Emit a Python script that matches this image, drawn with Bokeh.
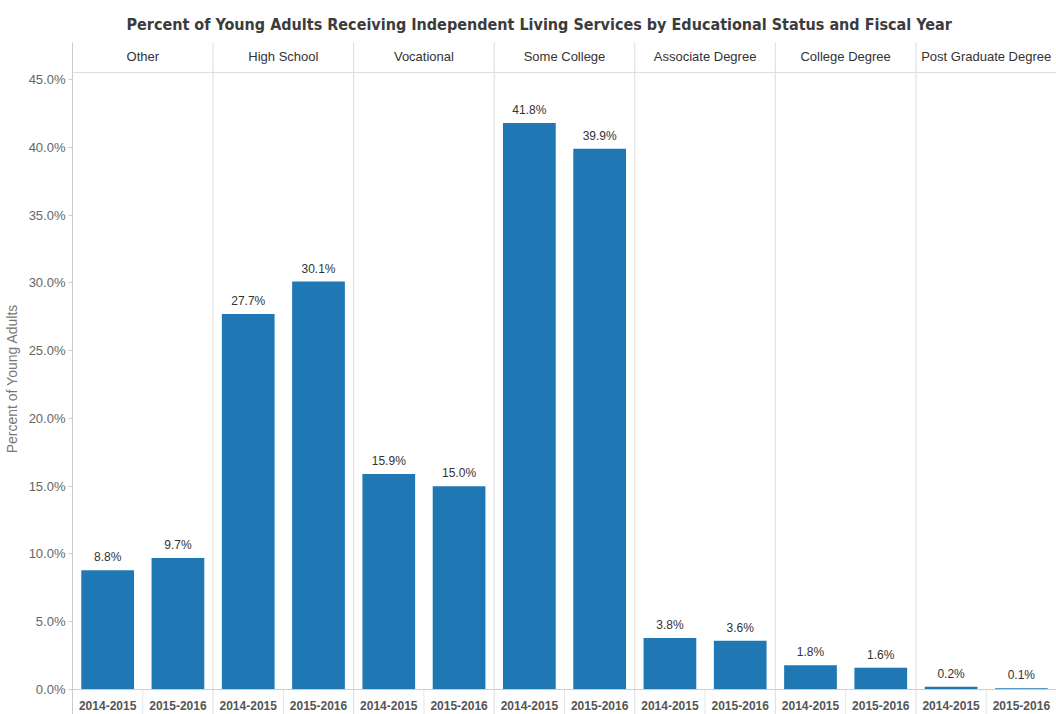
from bokeh.plotting import figure
from bokeh.models import FactorRange, Range1d, Span, FixedTicker, PrintfTickFormatter, ColumnDataSource
from bokeh.core.properties import value
from bokeh.embed import file_html
from bokeh.resources import INLINE

# ---- data ----
categories = ["Other", "High School", "Vocational", "Some College",
              "Associate Degree", "College Degree", "Post Graduate Degree"]
years = ["2014-2015", "2015-2016"]
fy_2014_2015 = [8.8, 27.7, 15.9, 41.8, 3.8, 1.8, 0.2]
fy_2015_2016 = [9.7, 30.1, 15.0, 39.9, 3.6, 1.6, 0.1]
y_ticks = [0, 5, 10, 15, 20, 25, 30, 35, 40, 45]

factors = [(c, y) for c in categories for y in years]
values = [v for pair in zip(fy_2014_2015, fy_2015_2016) for v in pair]
labels = [f"{v:.1f}%" for v in values]
bars = ColumnDataSource(dict(x=factors, top=values, label=labels))

# ---- layout constants (data units) ----
Y_MIN, Y_MAX = -1.84, 47.73
HEADER_LINE = 45.52
HEADER_TEXT = 46.70
YEAR_TEXT = -1.18

BAR_COLOR = "#1f77b4"
SEP_COLOR = "#dddddd"

p = figure(width=1056, height=714, output_backend="svg", toolbar_location=None,
           x_range=FactorRange(*factors, factor_padding=0, group_padding=0, range_padding=0),
           y_range=Range1d(Y_MIN, Y_MAX), x_axis_location=None,
           title="Percent of Young Adults Receiving Independent Living Services by Educational Status and Fiscal Year")

p.title.text_font = "DejaVu Sans Condensed"
p.title.text_font_size = "16px"
p.title.text_font_style = "bold"
p.title.text_color = "#3c3c3c"
p.title.align = "left"
p.title.offset = 54
p.title.standoff = 17

p.outline_line_color = None
p.xgrid.visible = False
p.ygrid.visible = False
p.min_border_right = 0
p.min_border_bottom = 0
p.min_border_left = 0
p.min_border_top = 42
p.background_fill_color = "white"
p.border_fill_color = "white"

ax = p.yaxis[0]
ax.ticker = FixedTicker(ticks=y_ticks)
ax.formatter = PrintfTickFormatter(format="%.1f%%")
ax.axis_label = "Percent of Young Adults"
ax.axis_label_text_font = "Liberation Sans"
ax.axis_label_text_font_size = "14px"
ax.axis_label_text_font_style = "normal"
ax.axis_label_text_color = "#777777"
ax.axis_label_standoff = 6
ax.major_label_text_font = "Liberation Sans"
ax.major_label_text_font_size = "13px"
ax.major_label_text_color = "#666666"
ax.major_label_standoff = 3
ax.axis_line_color = "#cccccc"
ax.major_tick_line_color = "#cccccc"
ax.major_tick_out = 4
ax.major_tick_in = 0
ax.minor_tick_line_color = None

# separators between panels
for i in range(1, len(categories)):
    p.add_layout(Span(location=len(years) * i, dimension="height",
                      line_color=SEP_COLOR, line_width=1))
# header bottom line and x axis line
p.add_layout(Span(location=HEADER_LINE, dimension="width", line_color=SEP_COLOR, line_width=1))
p.add_layout(Span(location=0, dimension="width", line_color="#cccccc", line_width=1))

# faint separators between the two year labels inside each panel
mid = [len(years) * i + 1 for i in range(len(categories))]
p.segment(x0=mid, x1=mid, y0=[0] * len(mid), y1=[Y_MIN] * len(mid),
          line_color="#e6e6e6", line_width=1)

p.vbar(x="x", top="top", width=0.75, source=bars, color=BAR_COLOR, line_color=None)

p.text(x="x", y="top", text="label", source=bars, text_align="center",
       text_baseline="bottom", y_offset=-6, text_font=value("Liberation Sans"),
       text_font_size="12px", text_color="#333333")

# facet headers
p.text(x=categories, y=[HEADER_TEXT] * len(categories), text=categories,
       text_align="center", text_baseline="middle", text_font=value("Liberation Sans"),
       text_font_size="13px", text_color="#333333")

# year labels
p.text(x=factors, y=[YEAR_TEXT] * len(factors), text=[f[1] for f in factors],
       text_align="center", text_baseline="middle", text_font=value("Liberation Sans"),
       text_font_size="12px", text_font_style="bold", text_color="#555555")

open("out.html", "w").write(file_html(p, INLINE))
